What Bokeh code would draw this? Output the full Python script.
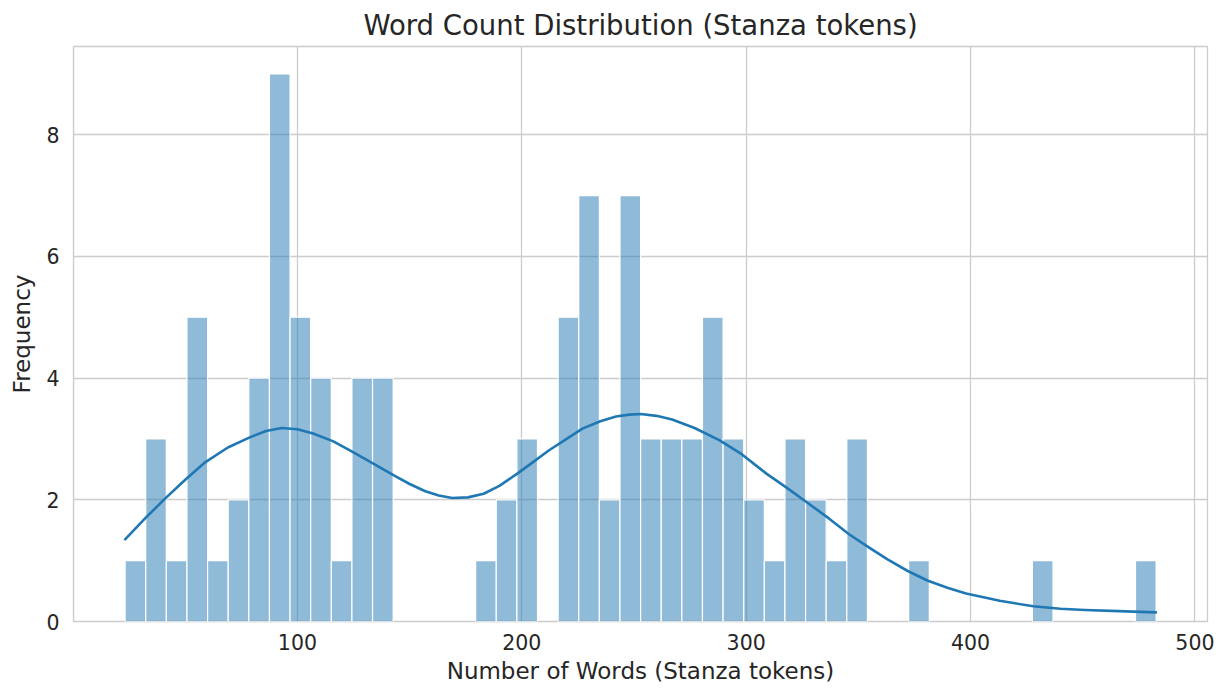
import numpy as np
from bokeh.plotting import figure
from bokeh.models import FixedTicker, Range1d, ColumnDataSource
from bokeh.embed import file_html
from bokeh.resources import INLINE

# ---- data ----
bin_start = 23.2
bin_width = 9.19
counts = [1, 3, 1, 5, 1, 2, 4, 9, 5, 4,
          1, 4, 4, 0, 0, 0, 0, 1, 2, 3,
          0, 5, 7, 2, 7, 3, 3, 3, 5, 3,
          2, 1, 3, 2, 1, 3, 0, 0, 1, 0,
          0, 0, 0, 0, 1, 0, 0, 0, 0, 1]

kde_x = [23.2, 32, 41, 50, 59, 69, 79, 86, 93, 100, 107, 116, 125, 134, 143, 150, 157,
         163, 169, 176, 183, 190, 198, 205, 212, 220, 227, 235, 242, 248, 253, 260, 267,
         277, 288, 298, 309, 318, 327, 337, 346, 355, 363, 372, 381, 390, 398, 413, 428,
         440, 451, 466, 482.6]
kde_y = [1.35, 1.69, 2.02, 2.33, 2.62, 2.86, 3.03, 3.13, 3.18, 3.16, 3.09, 2.96, 2.78,
         2.59, 2.40, 2.26, 2.14, 2.07, 2.03, 2.04, 2.10, 2.23, 2.43, 2.62, 2.81, 3.00,
         3.17, 3.29, 3.37, 3.40, 3.41, 3.38, 3.32, 3.18, 2.98, 2.75, 2.43, 2.20, 1.96,
         1.69, 1.43, 1.21, 1.02, 0.83, 0.67, 0.55, 0.46, 0.34, 0.25, 0.21, 0.19, 0.17, 0.15]

x_ticks = [0, 100, 200, 300, 400, 500]
y_ticks = [0, 2, 4, 6, 8]

title_text = "Word Count Distribution (Stanza tokens)"
x_label = "Number of Words (Stanza tokens)"
y_label = "Frequency"

# ---- build ----
edges = bin_start + bin_width * np.arange(len(counts) + 1)
lefts, rights, tops = [], [], []
for i, c in enumerate(counts):
    if c > 0:
        lefts.append(edges[i]); rights.append(edges[i + 1]); tops.append(c)
src = ColumnDataSource(dict(left=lefts, right=rights, top=tops, bottom=[0] * len(tops)))

FONT = "DejaVu Sans"
TXT = "#262626"
GRID = "#cccccc"

p = figure(width=1219, height=689,
           x_range=Range1d(0.2, 505.6), y_range=Range1d(0, 9.45),
           output_backend="svg", toolbar_location=None,
           min_border_left=73, min_border_right=12,
           min_border_top=44, min_border_bottom=68)

p.background_fill_color = "white"
p.border_fill_color = "white"
p.outline_line_color = GRID
p.outline_line_width = 1.3

p.quad(left="left", right="right", top="top", bottom="bottom", source=src,
       fill_color="#1f77b4", fill_alpha=0.5, line_color="white", line_width=1.2)
p.line(kde_x, kde_y, line_color="#1f77b4", line_width=2.6, line_join="round", line_cap="round")

p.title.text = title_text
p.title.align = "center"
p.title.text_font = FONT
p.title.text_font_size = "27.5px"
p.title.text_font_style = "normal"
p.title.text_color = TXT
p.title.standoff = 12

for ax in (p.xaxis[0], p.yaxis[0]):
    ax.axis_line_color = None
    ax.major_tick_line_color = None
    ax.minor_tick_line_color = None
    ax.major_tick_in = 0
    ax.major_tick_out = 0
    ax.minor_tick_in = 0
    ax.minor_tick_out = 0
    ax.major_label_text_font = FONT
    ax.major_label_text_font_size = "20.5px"
    ax.major_label_text_color = TXT
    ax.axis_label_text_font = FONT
    ax.axis_label_text_font_size = "23px"
    ax.axis_label_text_font_style = "normal"
    ax.axis_label_text_color = TXT

p.xaxis.ticker = FixedTicker(ticks=x_ticks)
p.yaxis.ticker = FixedTicker(ticks=y_ticks)
p.xaxis.axis_label = x_label
p.yaxis.axis_label = y_label
p.xaxis.major_label_standoff = 12
p.yaxis.major_label_standoff = 14
p.xaxis.axis_label_standoff = 5
p.yaxis.axis_label_standoff = 8

p.xgrid.grid_line_color = GRID
p.ygrid.grid_line_color = GRID
p.xgrid.grid_line_width = 1.3
p.ygrid.grid_line_width = 1.3

open("out.html", "w").write(file_html(p, INLINE))
